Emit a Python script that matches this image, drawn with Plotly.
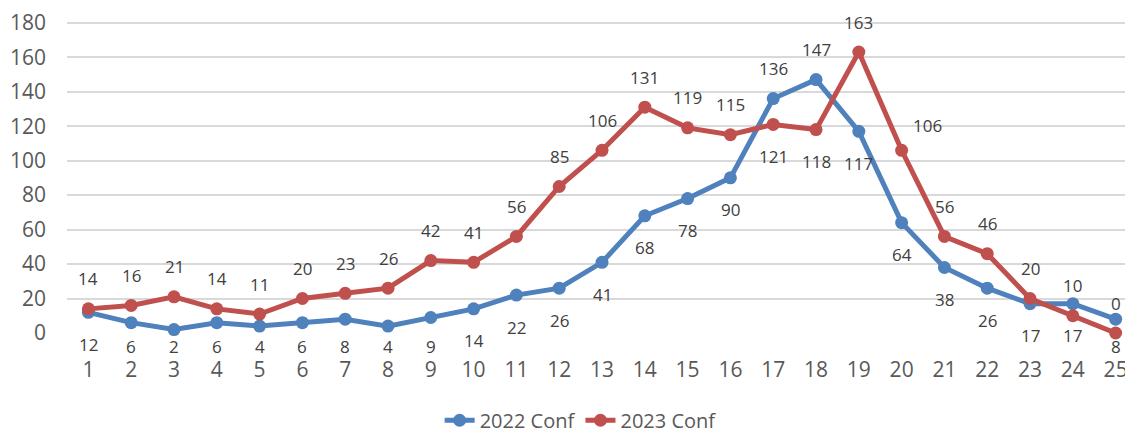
import plotly.graph_objects as go

BLUE = '#4F81BD'
RED = '#C0504D'
GRID = '#D9D9D9'
AXIS_TXT = '#595959'
LABEL_TXT = '#404040'
FONT = 'Open Sans'

weeks = list(range(1, 26))
conf_2022 = [12, 6, 2, 6, 4, 6, 8, 4, 9, 14, 22, 26, 41, 68, 78, 90, 136, 147, 117, 64, 38, 26, 17, 17, 8]
conf_2023 = [14, 16, 21, 14, 11, 20, 23, 26, 42, 41, 56, 85, 106, 131, 119, 115, 121, 118, 163, 106, 56, 46, 20, 10, 0]
y_ticks = [0, 20, 40, 60, 80, 100, 120, 140, 160, 180]

# label side per point: 2022 labels mostly below, 2023 mostly above (swapped at weeks 17-18)
above_2022 = [w in (17, 18) for w in weeks]
above_2023 = [w not in (17, 18) for w in weeks]

PLOT_H = 312
Y_MAX = 181
PX = PLOT_H / Y_MAX  # pixels per data unit

fig = go.Figure()
fig.add_trace(go.Scatter(x=weeks, y=conf_2022, mode='lines+markers', name='2022 Conf',
                         line=dict(color=BLUE, width=5), marker=dict(color=BLUE, size=13),
                         cliponaxis=False))
fig.add_trace(go.Scatter(x=weeks, y=conf_2023, mode='lines+markers', name='2023 Conf',
                         line=dict(color=RED, width=5), marker=dict(color=RED, size=13),
                         cliponaxis=False))

for series, above_list in ((conf_2022, above_2022), (conf_2023, above_2023)):
    for w, v, up in zip(weeks, series, above_list):
        xs = 0
        if up:
            ys = 30
        else:
            # labels near the bottom are kept inside the plot frame
            ys = -min(32, (v + 8) * PX)
        if series is conf_2023 and w == 20:
            xs, ys = 26, 25
        fig.add_annotation(x=w, y=v, text=str(v), showarrow=False, xshift=xs, yshift=ys,
                           font=dict(family=FONT, size=17, color=LABEL_TXT))

# the page body adds an 8px offset, so the figure is 8px smaller than the window
fig.update_layout(
    width=1125, height=425,
    margin=dict(l=59, r=0, t=13, b=100),
    paper_bgcolor='white', plot_bgcolor='white',
    font=dict(family=FONT, color=AXIS_TXT),
    xaxis=dict(range=[0.5, 25.406], tickvals=weeks, showgrid=False, zeroline=False,
               showline=False, ticklabeloverflow='allow',
               tickfont=dict(size=21, color=AXIS_TXT), ticklabelstandoff=22),
    yaxis=dict(range=[0, Y_MAX], tickvals=y_ticks, gridcolor=GRID, gridwidth=1.5, zeroline=False,
               showline=False, ticklabeloverflow='allow',
               tickfont=dict(size=21, color=AXIS_TXT), ticklabelstandoff=20),
    legend=dict(orientation='h', xref='container', yref='container', x=0.509, y=0.03,
                xanchor='center', yanchor='middle', font=dict(size=20, color=AXIS_TXT)),
    showlegend=True,
)

fig.write_html("out.html")
